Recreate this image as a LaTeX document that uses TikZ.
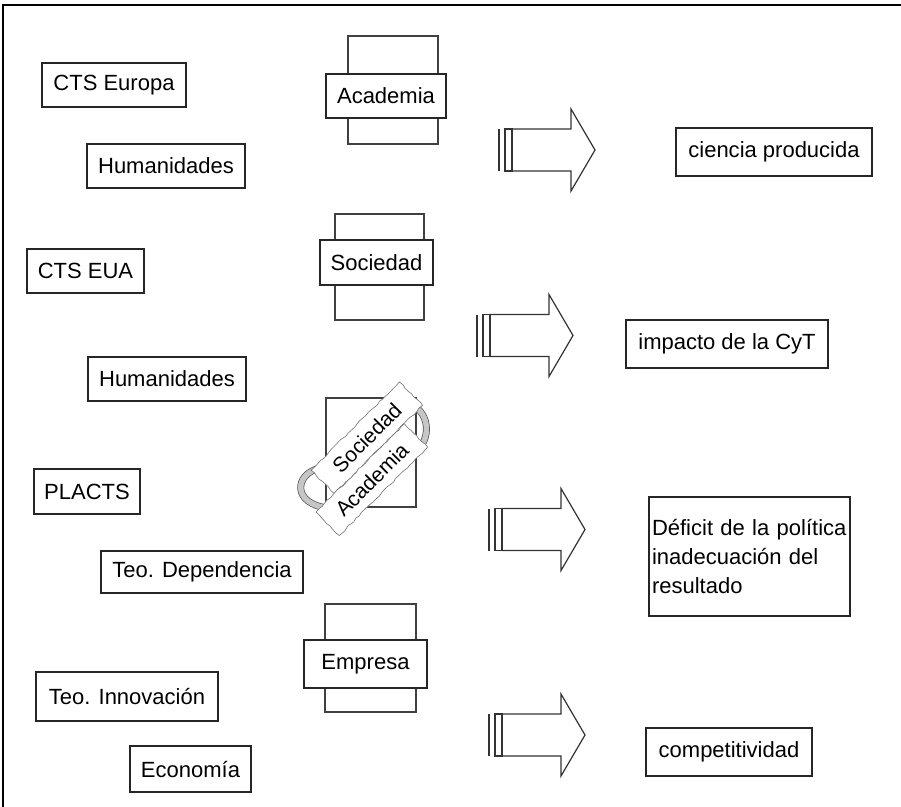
\documentclass[tikz,border=0pt]{standalone}
\usepackage{fontspec}
\setmainfont{Liberation Sans}
\usetikzlibrary{decorations.pathmorphing}
\begin{document}
\begin{tikzpicture}[x=1pt, y=-1pt,
  box/.style={draw=black!85, line width=1.4pt, fill=white, inner sep=0pt, font=\fontsize{22}{26}\selectfont},
  resbox/.style={box, line width=2.2pt},
  backbox/.style={draw=black!75, line width=1.2pt},
  banner/.style={draw=black!55, fill=white, line width=0.6pt, inner sep=0pt, minimum width=125pt, minimum height=33pt, rotate=45, font=\fontsize{21}{24}\selectfont, decorate, decoration={random steps, segment length=4pt, amplitude=0.8pt}},
  turn/.style={double=gray!45, double distance=5.5pt, line width=0.7pt, draw=black!70}]

    \useasboundingbox (0,0) rectangle (901,806);
    \draw[line width=1.8pt] (3,812) -- (3,5) -- (906,5);

    \node[box, minimum width=144pt, minimum height=44pt] (eu) at (114,85) {CTS Europa};
    \node[box, minimum width=158pt, minimum height=44pt] (hum1) at (166,166) {Humanidades};
    \node[box, minimum width=117pt, minimum height=44pt] (eua) at (85.5,271) {CTS EUA};
    \node[box, minimum width=158pt, minimum height=44pt] (hum2) at (167,379) {Humanidades};
    \node[box, minimum width=106pt, minimum height=45pt] (plac) at (87,491.5) {PLACTS};
    \node[box, minimum width=202pt, minimum height=42pt] (dep) at (202,572) {Teo. Dependencia};
    \node[box, minimum width=182pt, minimum height=49pt] (inn) at (127,696.5) {Teo. Innovación};
    \node[box, minimum width=121pt, minimum height=46pt] (eco) at (190.5,769) {Economía};

    \draw[backbox] (348,36) rectangle (438,144);
    \node[box, minimum width=120pt, minimum height=44pt] (acad) at (386,96) {Academia};
    \draw[backbox] (335,214) rectangle (424,320);
    \node[box, minimum width=113pt, minimum height=45pt] (soc) at (376.5,262.5) {Sociedad};
    \draw[backbox] (326,398) rectangle (416,507);
    \draw[turn] (320,468) .. controls (294,474) and (292,504) .. (328,508);
    \draw[turn] (414,452) .. controls (432,442) and (432,408) .. (404,402);
    \node[banner] (soc2) at (366.8,437.8) {Sociedad};
    \node[banner] (acad2) at (371.8,479.6) {Academia};
    \draw[backbox] (325,604) rectangle (416,712);
    \node[box, minimum width=123pt, minimum height=48pt] (emp) at (365.5,664) {Empresa};

    \foreach \ax/\ay in {499/150, 477/335.5, 489/529.5, 489/735} {
        \draw[line width=1.2pt, black!80] (\ax,\ay-21) -- (\ax,\ay+21);
        \draw[line width=1.2pt, black!80] (\ax+6,\ay-21) rectangle (\ax+13,\ay+21);
        \draw[line width=1.2pt, black!80] (\ax+13,\ay-21) -- (\ax+72,\ay-21) -- (\ax+72,\ay-41)
            -- (\ax+96,\ay) -- (\ax+72,\ay+41) -- (\ax+72,\ay+21) -- (\ax+13,\ay+21);
    }

    \node[resbox, minimum width=196pt, minimum height=48pt] (cien) at (774,152) {ciencia producida};
    \node[resbox, minimum width=202pt, minimum height=48pt] (imp) at (727,344) {impacto de la CyT};
    \node[resbox, line width=1.6pt, text width=195pt, inner xsep=3pt, minimum height=119pt, align=left, font=\fontsize{22}{29}\selectfont] (def) at (749.5,556.5) {Déficit de la política\\inadecuación del\\resultado};
    \node[resbox, minimum width=166pt, minimum height=48pt] (comp) at (729,752) {competitividad};
\end{tikzpicture}
\end{document}
